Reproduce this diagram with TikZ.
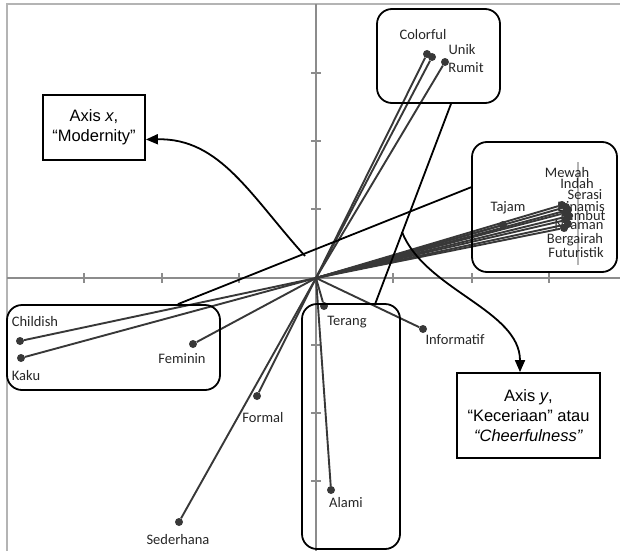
\documentclass[tikz,border=0pt]{standalone}
\usepackage{fontspec}
\setmainfont{Carlito}
\newfontfamily\arialfont{Liberation Sans}
\usepackage{xcolor}
\usetikzlibrary{positioning,arrows.meta,calc}

\definecolor{axisgray}{HTML}{8C8C8C}
\definecolor{framegray}{HTML}{B4B4B4}
\definecolor{vecgray}{HTML}{383838}

\begin{document}
\begin{tikzpicture}[
        x=1pt, y=-1pt,
        axisline/.style={draw=axisgray, line width=2pt},
        vec/.style={draw=vecgray, line width=1.9pt},
        dot/.style={circle, fill=vecgray, inner sep=0pt, minimum size=8pt},
        lbl/.style={font=\fontsize{14.5}{16}\selectfont, inner sep=0pt, text=black!85},
        group/.style={draw, rounded corners=15pt, line width=1.8pt},
        axisbox/.style={draw, line width=1.8pt, align=center, inner sep=0pt,
                        font=\arialfont\fontsize{16.5}{20}\selectfont},
        link/.style={line width=1.8pt},
        pointer/.style={line width=1.8pt, -{Triangle[length=12pt,width=10pt]}},
    ]
        \useasboundingbox (0,0) rectangle (620,551);

        % plot frame and axes
        \draw[framegray, line width=1.5pt] (7,551) -- (7,4) -- (620,4);
        \draw[axisline] (7,278) -- (620,278);
        \draw[axisline] (316,4) -- (316,551);
        \foreach \tx in {84,162,239,393,472,549}
            \draw[axisline] (\tx,273) -- (\tx,283);
        \foreach \ty in {73,141,209,345,413,481}
            \draw[axisline] (311,\ty) -- (321,\ty);
        \draw[framegray, line width=1.2pt] (578,162) -- (578,265);

        \coordinate (o) at (316,278);

        % labels
        \node[lbl] (colorfulL) at (423,35) {Colorful};
        \node[lbl] (unikL) at (462,50) {Unik};
        \node[lbl] (rumitL) at (466,68) {Rumit};
        \node[lbl] (tajamL) at (508,208) {Tajam};
        \node[lbl] (mewahL) at (567,173) {Mewah};
        \node[lbl] (indahL) at (577,184) {Indah};
        \node[lbl] (serasiL) at (585,195) {Serasi};
        \node[lbl] (dinamisL) at (581,207) {Dinamis};
        \node[lbl] (lembutL) at (583,216) {Lembut};
        \node[lbl] (nyamanL) at (579,226) {Nyaman};
        \node[lbl] (bergairahL) at (575,240) {Bergairah};
        \node[lbl] (futuristikL) at (576,253) {Futuristik};
        \node[lbl] (childishL) at (35,322) {Childish};
        \node[lbl] (kakuL) at (26,376) {Kaku};
        \node[lbl] (femininL) at (182,359) {Feminin};
        \node[lbl] (formalL) at (263,418) {Formal};
        \node[lbl] (sederhanaL) at (178,540) {Sederhana};
        \node[lbl] (terangL) at (347,322) {Terang};
        \node[lbl] (informatifL) at (455,340) {Informatif};
        \node[lbl] (alamiL) at (346,503) {Alami};

        % points
        \node[dot] (colorful) at (427,54) {};
        \node[dot] (unik) at (432,57) {};
        \node[dot] (rumit) at (445,62) {};
        \node[dot] (tajam) at (503,225) {};
        \node[dot] (mewah) at (562,205) {};
        \node[dot] (indah) at (566,207) {};
        \node[dot] (serasi) at (568,210) {};
        \node[dot] (dinamis) at (565,213) {};
        \node[dot] (lembut) at (569,216) {};
        \node[dot] (nyaman) at (566,220) {};
        \node[dot] (bergairah) at (568,224) {};
        \node[dot] (futuristik) at (564,228) {};
        \node[dot] (childish) at (20,341) {};
        \node[dot] (kaku) at (21,358) {};
        \node[dot] (feminin) at (193,344) {};
        \node[dot] (formal) at (257,396) {};
        \node[dot] (sederhana) at (179,522) {};
        \node[dot] (terang) at (324,306) {};
        \node[dot] (informatif) at (423,329) {};
        \node[dot] (alami) at (331,490) {};

        \foreach \p in {colorful,unik,rumit,tajam,mewah,indah,serasi,dinamis,lembut,
                        nyaman,bergairah,futuristik,childish,kaku,feminin,formal,
                        sederhana,terang,informatif,alami}
            \draw[vec] (o) -- (\p);

        % groups
        \node[group, minimum width=123pt, minimum height=94pt] (topbox) at (438.5,56) {};
        \node[group, minimum width=145pt, minimum height=130pt] (rightbox) at (544.5,207) {};
        \node[group, minimum width=213pt, minimum height=85pt] (leftbox) at (113.5,347.5) {};
        \node[group, minimum width=98pt, minimum height=245pt] (bottombox) at (351,426.5) {};

        \draw[link] ($(leftbox.north west)!0.8!(leftbox.north east)$)
            -- ($(rightbox.north west)!0.35!(rightbox.south west)$);
        \draw[link] ($(bottombox.north west)!0.745!(bottombox.north east)$)
            -- ($(topbox.south west)!0.6!(topbox.south east)$);

        % axis captions
        \node[axisbox, minimum width=102pt, minimum height=65pt] (axisx) at (94,127.5)
            {Axis \textit{x},\\“Modernity”};
        \node[axisbox, minimum width=143pt, minimum height=85pt] (axisy) at (528.5,415.5)
            {Axis \textit{y},\\“Keceriaan” atau\\\textit{“Cheerfulness”}};

        \coordinate (startx) at (305,256);
        \coordinate (starty) at (402,232);
        \draw[pointer] (startx) .. controls (250,195) and (220,138) .. ([yshift=-12pt]axisx.east);
        \draw[pointer] (starty) .. controls (425,290) and (520,310) .. (axisy.north -| 520,0);
    \end{tikzpicture}
\end{document}
